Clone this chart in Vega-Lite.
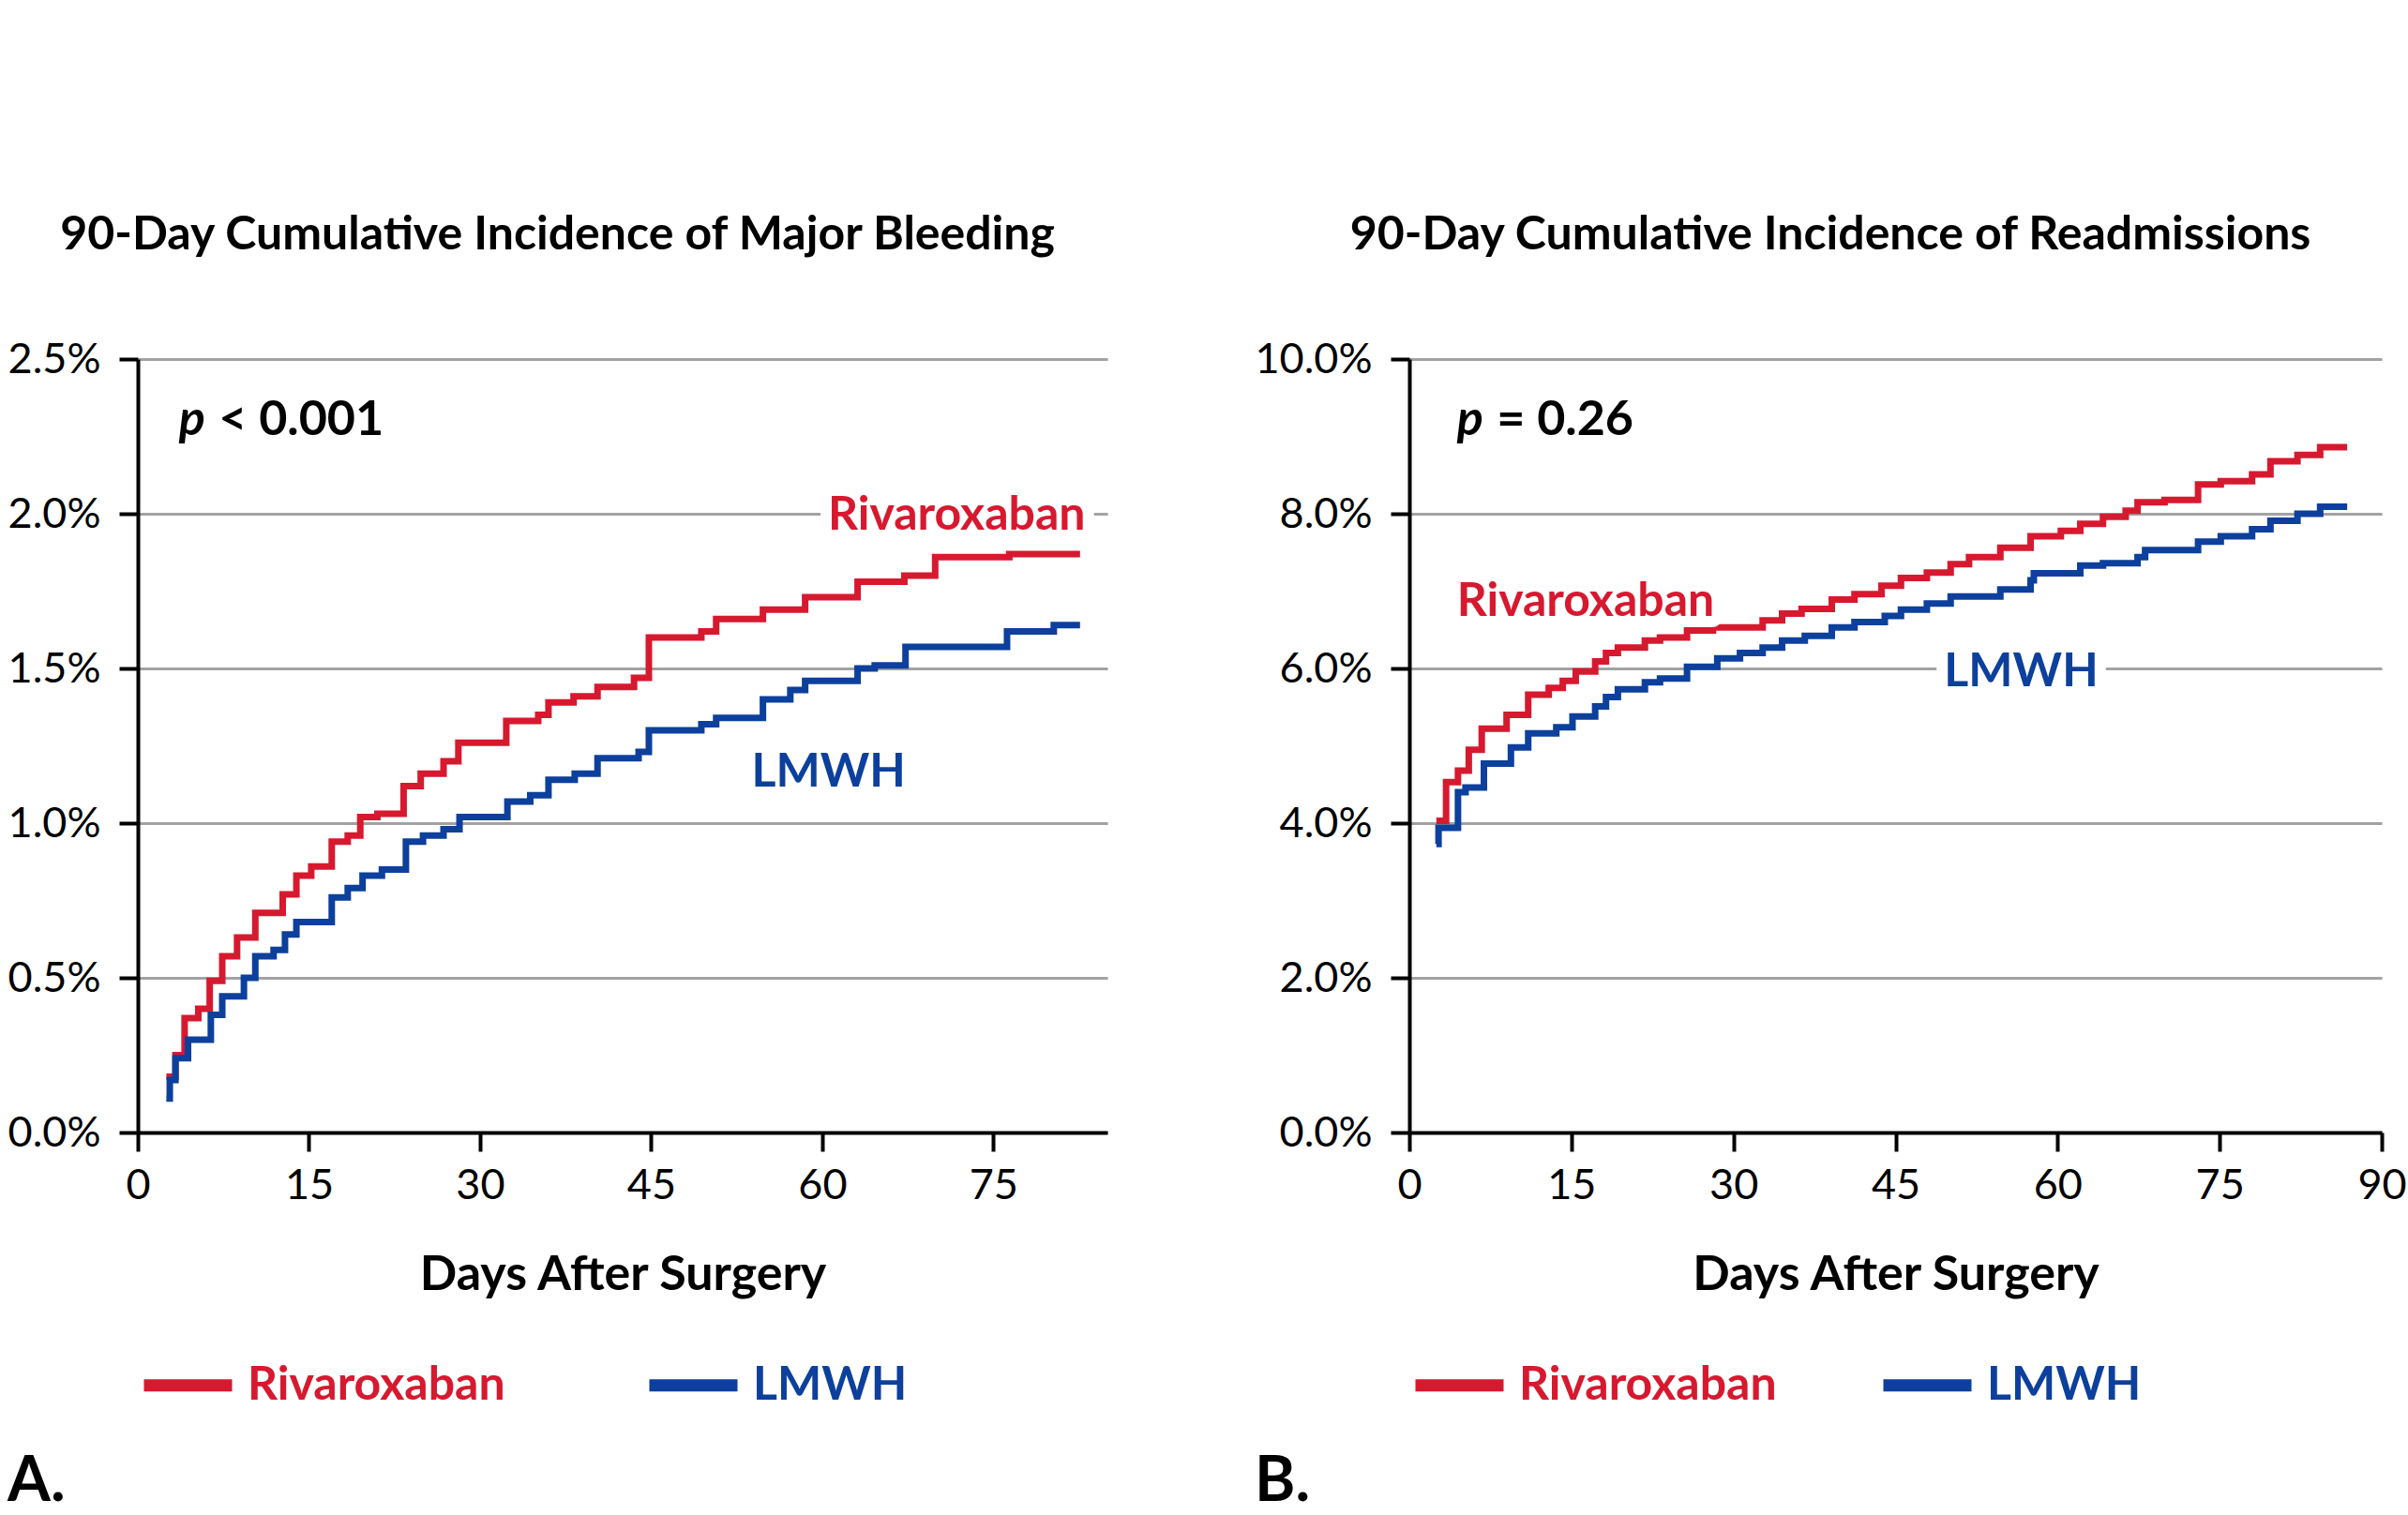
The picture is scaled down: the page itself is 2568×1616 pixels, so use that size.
{
  "$schema": "https://vega.github.io/schema/vega-lite/v6.json",
  "background": "white",
  "padding": {"left": 8, "top": 226, "right": 0, "bottom": 0},
  "config": {
    "view": {"stroke": null},
    "font": "Lato",
    "axis": {
      "domainColor": "#000000", "domainWidth": 4,
      "tickColor": "#000000", "tickWidth": 4, "tickSize": 20,
      "labelFont": "Lato", "labelFontSize": 45, "labelColor": "#000000",
      "titleFont": "Lato", "titleFontWeight": "bold", "titleFontSize": 52, "titleColor": "#000000",
      "gridColor": "#a2a2a2", "gridWidth": 3
    },
    "title": {"font": "Lato", "fontWeight": "bold", "fontSize": 50, "color": "#000000"}
  },
  "resolve": {"scale": {"color": "independent"}, "legend": {"color": "independent"}},
  "spacing": 157,
  "datasets": {
    "bleed": [
      {"day": 2.5, "pct": 0.18, "group": "Rivaroxaban"},
      {"day": 3.3, "pct": 0.25, "group": "Rivaroxaban"},
      {"day": 4.1, "pct": 0.37, "group": "Rivaroxaban"},
      {"day": 5.3, "pct": 0.40, "group": "Rivaroxaban"},
      {"day": 6.3, "pct": 0.49, "group": "Rivaroxaban"},
      {"day": 7.4, "pct": 0.57, "group": "Rivaroxaban"},
      {"day": 8.7, "pct": 0.63, "group": "Rivaroxaban"},
      {"day": 10.3, "pct": 0.71, "group": "Rivaroxaban"},
      {"day": 12.7, "pct": 0.77, "group": "Rivaroxaban"},
      {"day": 13.9, "pct": 0.83, "group": "Rivaroxaban"},
      {"day": 15.2, "pct": 0.86, "group": "Rivaroxaban"},
      {"day": 17.0, "pct": 0.94, "group": "Rivaroxaban"},
      {"day": 18.4, "pct": 0.96, "group": "Rivaroxaban"},
      {"day": 19.5, "pct": 1.02, "group": "Rivaroxaban"},
      {"day": 21.0, "pct": 1.03, "group": "Rivaroxaban"},
      {"day": 23.3, "pct": 1.12, "group": "Rivaroxaban"},
      {"day": 24.8, "pct": 1.16, "group": "Rivaroxaban"},
      {"day": 26.8, "pct": 1.20, "group": "Rivaroxaban"},
      {"day": 28.1, "pct": 1.26, "group": "Rivaroxaban"},
      {"day": 32.3, "pct": 1.33, "group": "Rivaroxaban"},
      {"day": 35.1, "pct": 1.35, "group": "Rivaroxaban"},
      {"day": 36.0, "pct": 1.39, "group": "Rivaroxaban"},
      {"day": 38.2, "pct": 1.41, "group": "Rivaroxaban"},
      {"day": 40.3, "pct": 1.44, "group": "Rivaroxaban"},
      {"day": 43.5, "pct": 1.47, "group": "Rivaroxaban"},
      {"day": 44.8, "pct": 1.60, "group": "Rivaroxaban"},
      {"day": 49.4, "pct": 1.62, "group": "Rivaroxaban"},
      {"day": 50.7, "pct": 1.66, "group": "Rivaroxaban"},
      {"day": 54.8, "pct": 1.69, "group": "Rivaroxaban"},
      {"day": 58.5, "pct": 1.73, "group": "Rivaroxaban"},
      {"day": 63.1, "pct": 1.78, "group": "Rivaroxaban"},
      {"day": 67.2, "pct": 1.80, "group": "Rivaroxaban"},
      {"day": 69.9, "pct": 1.86, "group": "Rivaroxaban"},
      {"day": 76.4, "pct": 1.87, "group": "Rivaroxaban"},
      {"day": 82.6, "pct": 1.87, "group": "Rivaroxaban"},
      {"day": 2.5, "pct": 0.11, "group": "LMWH"},
      {"day": 2.8, "pct": 0.17, "group": "LMWH"},
      {"day": 3.3, "pct": 0.24, "group": "LMWH"},
      {"day": 4.4, "pct": 0.30, "group": "LMWH"},
      {"day": 6.4, "pct": 0.38, "group": "LMWH"},
      {"day": 7.4, "pct": 0.44, "group": "LMWH"},
      {"day": 9.3, "pct": 0.50, "group": "LMWH"},
      {"day": 10.3, "pct": 0.57, "group": "LMWH"},
      {"day": 11.9, "pct": 0.59, "group": "LMWH"},
      {"day": 12.9, "pct": 0.64, "group": "LMWH"},
      {"day": 13.9, "pct": 0.68, "group": "LMWH"},
      {"day": 17.0, "pct": 0.76, "group": "LMWH"},
      {"day": 18.4, "pct": 0.79, "group": "LMWH"},
      {"day": 19.7, "pct": 0.83, "group": "LMWH"},
      {"day": 21.4, "pct": 0.85, "group": "LMWH"},
      {"day": 23.5, "pct": 0.94, "group": "LMWH"},
      {"day": 25.0, "pct": 0.96, "group": "LMWH"},
      {"day": 26.8, "pct": 0.98, "group": "LMWH"},
      {"day": 28.2, "pct": 1.02, "group": "LMWH"},
      {"day": 32.4, "pct": 1.07, "group": "LMWH"},
      {"day": 34.4, "pct": 1.09, "group": "LMWH"},
      {"day": 36.0, "pct": 1.14, "group": "LMWH"},
      {"day": 38.3, "pct": 1.16, "group": "LMWH"},
      {"day": 40.3, "pct": 1.21, "group": "LMWH"},
      {"day": 43.9, "pct": 1.23, "group": "LMWH"},
      {"day": 44.8, "pct": 1.30, "group": "LMWH"},
      {"day": 49.4, "pct": 1.32, "group": "LMWH"},
      {"day": 50.7, "pct": 1.34, "group": "LMWH"},
      {"day": 54.8, "pct": 1.40, "group": "LMWH"},
      {"day": 57.2, "pct": 1.43, "group": "LMWH"},
      {"day": 58.5, "pct": 1.46, "group": "LMWH"},
      {"day": 63.1, "pct": 1.50, "group": "LMWH"},
      {"day": 64.6, "pct": 1.51, "group": "LMWH"},
      {"day": 67.3, "pct": 1.57, "group": "LMWH"},
      {"day": 76.2, "pct": 1.62, "group": "LMWH"},
      {"day": 80.3, "pct": 1.64, "group": "LMWH"},
      {"day": 82.6, "pct": 1.64, "group": "LMWH"}
    ],
    "readm": [
      {"day": 2.5, "pct": 4.03, "group": "Rivaroxaban"},
      {"day": 3.4, "pct": 4.53, "group": "Rivaroxaban"},
      {"day": 4.5, "pct": 4.68, "group": "Rivaroxaban"},
      {"day": 5.5, "pct": 4.95, "group": "Rivaroxaban"},
      {"day": 6.7, "pct": 5.22, "group": "Rivaroxaban"},
      {"day": 9.0, "pct": 5.40, "group": "Rivaroxaban"},
      {"day": 11.0, "pct": 5.66, "group": "Rivaroxaban"},
      {"day": 12.9, "pct": 5.75, "group": "Rivaroxaban"},
      {"day": 14.2, "pct": 5.84, "group": "Rivaroxaban"},
      {"day": 15.4, "pct": 5.96, "group": "Rivaroxaban"},
      {"day": 17.2, "pct": 6.09, "group": "Rivaroxaban"},
      {"day": 18.2, "pct": 6.20, "group": "Rivaroxaban"},
      {"day": 19.3, "pct": 6.27, "group": "Rivaroxaban"},
      {"day": 21.8, "pct": 6.36, "group": "Rivaroxaban"},
      {"day": 23.2, "pct": 6.40, "group": "Rivaroxaban"},
      {"day": 25.7, "pct": 6.49, "group": "Rivaroxaban"},
      {"day": 28.1, "pct": 6.53, "group": "Rivaroxaban"},
      {"day": 32.7, "pct": 6.62, "group": "Rivaroxaban"},
      {"day": 34.5, "pct": 6.71, "group": "Rivaroxaban"},
      {"day": 36.3, "pct": 6.77, "group": "Rivaroxaban"},
      {"day": 39.1, "pct": 6.89, "group": "Rivaroxaban"},
      {"day": 41.2, "pct": 6.96, "group": "Rivaroxaban"},
      {"day": 43.7, "pct": 7.07, "group": "Rivaroxaban"},
      {"day": 45.5, "pct": 7.17, "group": "Rivaroxaban"},
      {"day": 47.9, "pct": 7.24, "group": "Rivaroxaban"},
      {"day": 50.1, "pct": 7.35, "group": "Rivaroxaban"},
      {"day": 51.8, "pct": 7.44, "group": "Rivaroxaban"},
      {"day": 54.7, "pct": 7.56, "group": "Rivaroxaban"},
      {"day": 57.5, "pct": 7.71, "group": "Rivaroxaban"},
      {"day": 60.3, "pct": 7.78, "group": "Rivaroxaban"},
      {"day": 62.1, "pct": 7.87, "group": "Rivaroxaban"},
      {"day": 64.2, "pct": 7.96, "group": "Rivaroxaban"},
      {"day": 66.3, "pct": 8.04, "group": "Rivaroxaban"},
      {"day": 67.4, "pct": 8.15, "group": "Rivaroxaban"},
      {"day": 69.9, "pct": 8.18, "group": "Rivaroxaban"},
      {"day": 73.0, "pct": 8.38, "group": "Rivaroxaban"},
      {"day": 75.1, "pct": 8.42, "group": "Rivaroxaban"},
      {"day": 78.0, "pct": 8.51, "group": "Rivaroxaban"},
      {"day": 79.7, "pct": 8.68, "group": "Rivaroxaban"},
      {"day": 82.2, "pct": 8.76, "group": "Rivaroxaban"},
      {"day": 84.3, "pct": 8.86, "group": "Rivaroxaban"},
      {"day": 86.8, "pct": 8.86, "group": "Rivaroxaban"},
      {"day": 2.5, "pct": 3.73, "group": "LMWH"},
      {"day": 2.7, "pct": 3.94, "group": "LMWH"},
      {"day": 4.5, "pct": 4.40, "group": "LMWH"},
      {"day": 5.2, "pct": 4.46, "group": "LMWH"},
      {"day": 6.9, "pct": 4.77, "group": "LMWH"},
      {"day": 9.4, "pct": 4.98, "group": "LMWH"},
      {"day": 11.0, "pct": 5.16, "group": "LMWH"},
      {"day": 13.6, "pct": 5.24, "group": "LMWH"},
      {"day": 15.1, "pct": 5.38, "group": "LMWH"},
      {"day": 17.2, "pct": 5.51, "group": "LMWH"},
      {"day": 18.2, "pct": 5.63, "group": "LMWH"},
      {"day": 19.3, "pct": 5.73, "group": "LMWH"},
      {"day": 21.8, "pct": 5.82, "group": "LMWH"},
      {"day": 23.2, "pct": 5.87, "group": "LMWH"},
      {"day": 25.7, "pct": 6.02, "group": "LMWH"},
      {"day": 28.5, "pct": 6.13, "group": "LMWH"},
      {"day": 30.6, "pct": 6.20, "group": "LMWH"},
      {"day": 32.7, "pct": 6.27, "group": "LMWH"},
      {"day": 34.5, "pct": 6.36, "group": "LMWH"},
      {"day": 36.6, "pct": 6.42, "group": "LMWH"},
      {"day": 39.1, "pct": 6.53, "group": "LMWH"},
      {"day": 41.2, "pct": 6.60, "group": "LMWH"},
      {"day": 44.0, "pct": 6.68, "group": "LMWH"},
      {"day": 45.5, "pct": 6.76, "group": "LMWH"},
      {"day": 47.9, "pct": 6.84, "group": "LMWH"},
      {"day": 50.1, "pct": 6.93, "group": "LMWH"},
      {"day": 54.7, "pct": 7.02, "group": "LMWH"},
      {"day": 57.5, "pct": 7.14, "group": "LMWH"},
      {"day": 57.8, "pct": 7.23, "group": "LMWH"},
      {"day": 62.1, "pct": 7.33, "group": "LMWH"},
      {"day": 64.2, "pct": 7.36, "group": "LMWH"},
      {"day": 67.4, "pct": 7.44, "group": "LMWH"},
      {"day": 68.1, "pct": 7.53, "group": "LMWH"},
      {"day": 73.0, "pct": 7.64, "group": "LMWH"},
      {"day": 75.1, "pct": 7.71, "group": "LMWH"},
      {"day": 78.0, "pct": 7.80, "group": "LMWH"},
      {"day": 79.7, "pct": 7.91, "group": "LMWH"},
      {"day": 82.2, "pct": 8.00, "group": "LMWH"},
      {"day": 84.3, "pct": 8.09, "group": "LMWH"},
      {"day": 86.8, "pct": 8.09, "group": "LMWH"}
    ]
  },
  "hconcat": [
    {
      "title": {"text": "A.", "orient": "bottom", "anchor": "start", "fontSize": 66, "offset": 45},
      "vconcat": [
        {
          "width": 1034,
          "height": 825,
          "title": {"text": "90-Day Cumulative Incidence of Major Bleeding", "offset": 85, "frame": "bounds"},
          "encoding": {
            "x": {"field": "day", "type": "quantitative", "title": "Days After Surgery",
              "scale": {"domain": [0, 85], "nice": false, "zero": false},
              "axis": {"values": [0, 15, 30, 45, 60, 75], "grid": false, "labelFlush": false, "labelPadding": 14, "titlePadding": 47}},
            "y": {"field": "pct", "type": "quantitative", "title": null,
              "scale": {"domain": [0, 2.5], "nice": false},
              "axis": {"values": [0, 0.5, 1, 1.5, 2, 2.5], "labelExpr": "format(datum.value, '.1f') + '%'", "labelPadding": 20, "minExtent": 136, "maxExtent": 136, "grid": true}}
          },
          "layer": [
            {
              "data": {"name": "bleed"},
              "mark": {"type": "line", "interpolate": "step-after", "strokeWidth": 7},
              "encoding": {
                "color": {"field": "group", "type": "nominal",
                  "scale": {"domain": ["Rivaroxaban", "LMWH"], "range": ["#d7192f", "#0c409c"]},
                  "legend": {"orient": "bottom", "direction": "horizontal", "title": null,
                    "symbolType": "stroke", "symbolSize": 8836, "symbolStrokeWidth": 13,
                    "labelFont": "Lato", "labelFontSize": 50, "labelFontWeight": "bold", "labelLimit": 0,
                    "labelOffset": 10, "columnPadding": 127, "offset": 39, "padding": 0,
                    "encode": {"labels": {"update": {"fill": {"signal": "datum.value === 'LMWH' ? '#0c409c' : '#d7192f'"}}}}}
                }
              }
            },
            {
              "data": {"values": [{"day": 60.5, "pct": 1.95, "label": "Rivaroxaban"}, {"day": 53.8, "pct": 1.118, "label": "LMWH"}]},
              "mark": {"type": "text", "align": "left", "baseline": "alphabetic", "fontSize": 50, "fontWeight": "bold", "fill": "white", "stroke": "white", "strokeWidth": 24, "strokeJoin": "round"},
              "encoding": {"text": {"field": "label"}}
            },
            {
              "data": {"values": [{"day": 60.5, "pct": 1.95, "label": "Rivaroxaban"}, {"day": 53.8, "pct": 1.118, "label": "LMWH"}]},
              "mark": {"type": "text", "align": "left", "baseline": "alphabetic", "fontSize": 50, "fontWeight": "bold"},
              "encoding": {"text": {"field": "label"},
                "color": {"condition": {"test": "datum.label === 'LMWH'", "value": "#0c409c"}, "value": "#d7192f"}}
            },
            {
              "data": {"values": [{"day": 3.6, "pct": 2.254}]},
              "mark": {"type": "text", "text": "p", "align": "left", "baseline": "alphabetic", "fontSize": 52, "fontWeight": "bold", "fontStyle": "italic", "color": "#000000"}
            },
            {
              "data": {"values": [{"day": 7.1, "pct": 2.254}]},
              "mark": {"type": "text", "text": "< 0.001", "align": "left", "baseline": "alphabetic", "fontSize": 52, "fontWeight": "bold", "color": "#000000"}
            }
          ]
        }
      ]
    },
    {
      "title": {"text": "B.", "orient": "bottom", "anchor": "start", "fontSize": 66, "offset": 45},
      "vconcat": [
        {
          "width": 1037,
          "height": 825,
          "title": {"text": "90-Day Cumulative Incidence of Readmissions", "offset": 85, "frame": "bounds"},
          "encoding": {
            "x": {"field": "day", "type": "quantitative", "title": "Days After Surgery",
              "scale": {"domain": [0, 90], "nice": false, "zero": false},
              "axis": {"values": [0, 15, 30, 45, 60, 75, 90], "grid": false, "labelFlush": false, "labelPadding": 14, "titlePadding": 47}},
            "y": {"field": "pct", "type": "quantitative", "title": null,
              "scale": {"domain": [0, 10], "nice": false},
              "axis": {"values": [0, 2, 4, 6, 8, 10], "labelExpr": "format(datum.value, '.1f') + '%'", "labelPadding": 20, "minExtent": 156, "maxExtent": 156, "grid": true}}
          },
          "layer": [
            {
              "data": {"name": "readm"},
              "mark": {"type": "line", "interpolate": "step-after", "strokeWidth": 7},
              "encoding": {
                "color": {"field": "group", "type": "nominal",
                  "scale": {"domain": ["Rivaroxaban", "LMWH"], "range": ["#d7192f", "#0c409c"]},
                  "legend": {"orient": "bottom", "direction": "horizontal", "title": null,
                    "symbolType": "stroke", "symbolSize": 8836, "symbolStrokeWidth": 13,
                    "labelFont": "Lato", "labelFontSize": 50, "labelFontWeight": "bold", "labelLimit": 0,
                    "labelOffset": 10, "columnPadding": 87, "offset": 39, "padding": 0,
                    "encode": {"labels": {"update": {"fill": {"signal": "datum.value === 'LMWH' ? '#0c409c' : '#d7192f'"}}}}}
                }
              }
            },
            {
              "data": {"values": [{"day": 4.4, "pct": 6.68, "label": "Rivaroxaban"}, {"day": 49.5, "pct": 5.77, "label": "LMWH"}]},
              "mark": {"type": "text", "align": "left", "baseline": "alphabetic", "fontSize": 50, "fontWeight": "bold", "fill": "white", "stroke": "white", "strokeWidth": 24, "strokeJoin": "round"},
              "encoding": {"text": {"field": "label"}}
            },
            {
              "data": {"values": [{"day": 4.4, "pct": 6.68, "label": "Rivaroxaban"}, {"day": 49.5, "pct": 5.77, "label": "LMWH"}]},
              "mark": {"type": "text", "align": "left", "baseline": "alphabetic", "fontSize": 50, "fontWeight": "bold"},
              "encoding": {"text": {"field": "label"},
                "color": {"condition": {"test": "datum.label === 'LMWH'", "value": "#0c409c"}, "value": "#d7192f"}}
            },
            {
              "data": {"values": [{"day": 4.4, "pct": 9.02}]},
              "mark": {"type": "text", "text": "p", "align": "left", "baseline": "alphabetic", "fontSize": 52, "fontWeight": "bold", "fontStyle": "italic", "color": "#000000"}
            },
            {
              "data": {"values": [{"day": 8.1, "pct": 9.02}]},
              "mark": {"type": "text", "text": "= 0.26", "align": "left", "baseline": "alphabetic", "fontSize": 52, "fontWeight": "bold", "color": "#000000"}
            }
          ]
        }
      ]
    }
  ]
}
